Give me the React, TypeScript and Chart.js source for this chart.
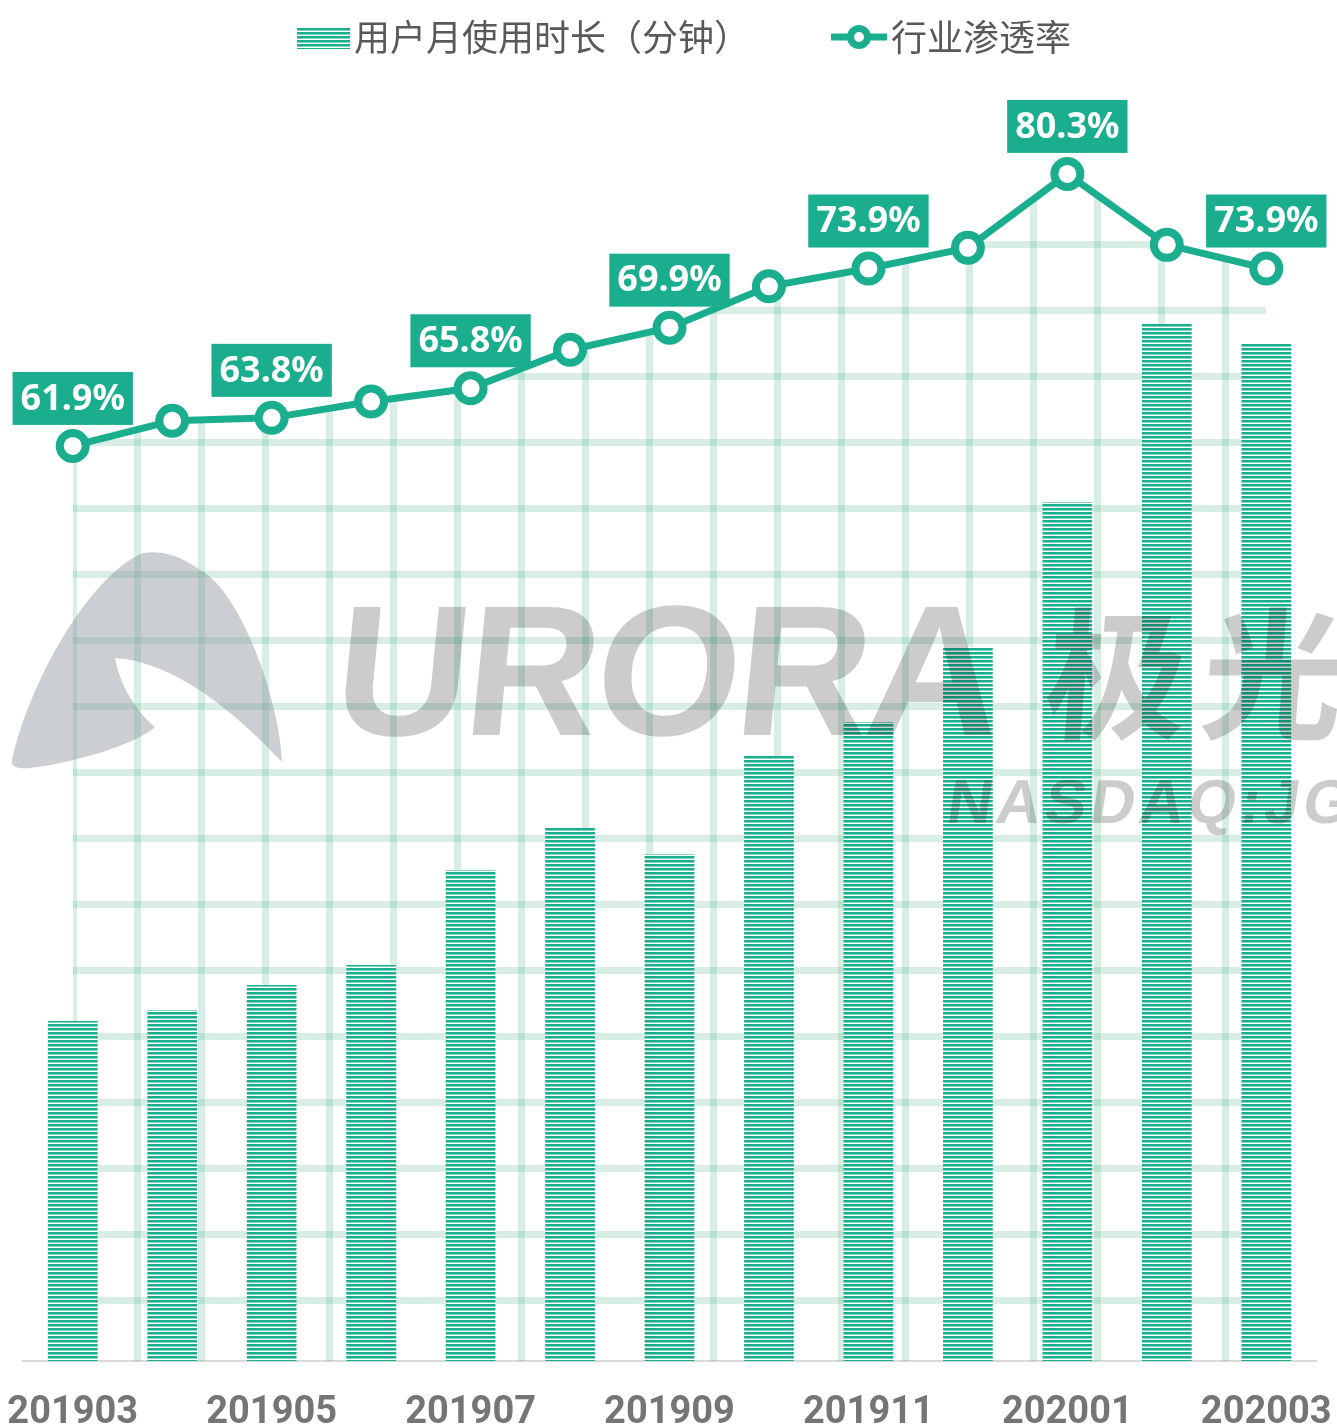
import React, { useEffect, useRef } from 'react';
import { Chart, registerables } from 'chart.js';

Chart.register(...registerables);

const categories = ['201903', '201904', '201905', '201906', '201907', '201908', '201909', '201910', '201911', '201912', '202001', '202002', '202003'];
const usageMinutes = [340, 351, 376, 396, 491, 533, 507, 605, 639, 714, 859, 1037, 1017];
const penetration = [61.9, 63.6, 63.8, 64.9, 65.8, 68.4, 69.9, 72.7, 73.9, 75.3, 80.3, 75.5, 73.9];
const seriesNames = ['用户月使用时长（分钟）', '行业渗透率'];

const GREEN = '#1aae8f';

function makeBarPattern(ctx: CanvasRenderingContext2D) {
  const c = document.createElement('canvas');
  c.width = 4;
  c.height = 4;
  const g = c.getContext('2d')!;
  g.fillStyle = '#ffffff';
  g.fillRect(0, 0, 4, 4);
  g.fillStyle = GREEN;
  g.fillRect(0, 0, 4, 2);
  g.fillStyle = 'rgba(26,174,143,0.55)';
  g.fillRect(0, 2, 4, 1);
  return ctx.createPattern(c, 'repeat')!;
}

function makeGridPattern(ctx: CanvasRenderingContext2D) {
  const c = document.createElement('canvas');
  c.width = 64;
  c.height = 66;
  const g = c.getContext('2d')!;
  g.fillStyle = 'rgba(60,170,120,0.2)';
  g.fillRect(6, 0, 7, 66);
  g.fillRect(0, 43, 64, 7);
  return ctx.createPattern(c, 'repeat')!;
}

const watermarkPlugin = {
  id: 'watermark',
  afterDatasetsDraw(chart: any) {
    const ctx = chart.ctx as CanvasRenderingContext2D;
    ctx.save();
    ctx.fillStyle = 'rgba(140,148,155,0.45)';
    ctx.beginPath();
    ctx.moveTo(143, 553);
    ctx.bezierCurveTo(90, 575, 30, 680, 12, 760);
    ctx.quadraticCurveTo(10, 770, 30, 768);
    ctx.bezierCurveTo(80, 762, 140, 742, 155, 727);
    ctx.bezierCurveTo(135, 710, 120, 685, 115, 658);
    ctx.bezierCurveTo(175, 662, 235, 712, 282, 762);
    ctx.bezierCurveTo(280, 700, 240, 590, 200, 570);
    ctx.bezierCurveTo(180, 555, 160, 550, 143, 553);
    ctx.closePath();
    ctx.fill();

    ctx.fillStyle = 'rgba(0,0,0,0.2)';
    ctx.textBaseline = 'alphabetic';
    ctx.textAlign = 'left';
    ctx.save();
    ctx.translate(330, 735);
    ctx.transform(1, 0, -0.1, 1, 0, 0);
    ctx.font = 'bold 186px "Liberation Sans", Arial, sans-serif';
    (ctx as any).letterSpacing = '-4px';
    ctx.fillText('URORA', 0, 0);
    ctx.restore();
    ctx.save();
    ctx.translate(1042, 728);
    ctx.transform(1, 0, -0.08, 1, 0, 0);
    ctx.font = 'bold 142px "Noto Sans CJK SC", sans-serif';
    (ctx as any).letterSpacing = '14px';
    ctx.fillText('极光', 0, 0);
    ctx.restore();
    ctx.save();
    ctx.translate(945, 823);
    ctx.transform(1, 0, -0.15, 1, 0, 0);
    ctx.font = 'bold 62px "Liberation Sans", Arial, sans-serif';
    (ctx as any).letterSpacing = '4px';
    ctx.fillText('NASDAQ:JG', 0, 0);
    ctx.restore();
    ctx.restore();
  },
};

const pointLabelPlugin = {
  id: 'pointLabels',
  afterDatasetsDraw(chart: any) {
    const ctx = chart.ctx as CanvasRenderingContext2D;
    const meta = chart.getDatasetMeta(1);
    ctx.save();
    ctx.font = 'bold 36px "Noto Sans", "Open Sans", sans-serif';
    ctx.textAlign = 'center';
    ctx.textBaseline = 'middle';
    meta.data.forEach((pt: any, i: number) => {
      if (i % 2 !== 0) return;
      const text = penetration[i].toFixed(1) + '%';
      const w = ctx.measureText(text).width + 16;
      const h = 53;
      const bottom = pt.y - 21;
      ctx.fillStyle = GREEN;
      ctx.fillRect(pt.x - w / 2, bottom - h, w, h);
      ctx.fillStyle = '#ffffff';
      ctx.fillText(text, pt.x, bottom - h / 2 + 1);
    });
    ctx.restore();
  },
};

const legendPlugin = {
  id: 'customLegend',
  afterDraw(chart: any) {
    const ctx = chart.ctx as CanvasRenderingContext2D;
    ctx.save();
    const cy = 37;
    ctx.fillStyle = makeBarPattern(ctx);
    ctx.fillRect(297, 27, 53, 22);
    ctx.font = '36px "Noto Sans CJK SC", sans-serif';
    ctx.fillStyle = '#595959';
    ctx.textBaseline = 'middle';
    ctx.textAlign = 'left';
    ctx.fillText(seriesNames[0], 354, cy);

    ctx.strokeStyle = GREEN;
    ctx.lineWidth = 7;
    ctx.beginPath();
    ctx.moveTo(831, cy);
    ctx.lineTo(887, cy);
    ctx.stroke();
    ctx.beginPath();
    ctx.arc(859, cy, 8.5, 0, Math.PI * 2);
    ctx.fillStyle = '#ffffff';
    ctx.fill();
    ctx.stroke();
    ctx.fillStyle = '#595959';
    ctx.fillText(seriesNames[1], 891, cy);
    ctx.restore();
  },
};

export default function App() {
  const ref = useRef<HTMLCanvasElement>(null);
  useEffect(() => {
    document.body.style.margin = '0';
    const canvas = ref.current!;
    const ctx = canvas.getContext('2d')!;
    const barPattern = makeBarPattern(ctx);
    const gridPattern = makeGridPattern(ctx);
    const chart = new Chart(canvas, {
      data: {
        labels: categories,
        datasets: [
          {
            type: 'bar',
            label: seriesNames[0],
            data: usageMinutes,
            backgroundColor: barPattern as any,
            borderWidth: 0,
            yAxisID: 'yBar',
            order: 1,
            barPercentage: 0.5,
            categoryPercentage: 1,
          },
          {
            type: 'line',
            label: seriesNames[1],
            data: penetration,
            borderColor: GREEN,
            borderWidth: 7,
            backgroundColor: gridPattern as any,
            fill: 'origin',
            pointRadius: 13,
            pointHoverRadius: 13,
            pointBorderWidth: 8,
            pointBackgroundColor: '#ffffff',
            pointBorderColor: GREEN,
            tension: 0,
            yAxisID: 'yLine',
            order: 0,
            clip: false as any,
          },
        ],
      } as any,
      options: {
        responsive: false,
        animation: false,
        devicePixelRatio: 1,
        layout: { padding: { top: 100, left: 23, right: 17, bottom: 0 } },
        plugins: {
          legend: { display: false },
          tooltip: { enabled: false },
          filler: { drawTime: 'beforeDatasetsDraw' } as any,
        },
        scales: {
          x: {
            grid: { display: false, drawTicks: false },
            border: { display: true, color: '#d9d9d9', width: 2 },
            ticks: {
              autoSkip: false,
              maxRotation: 0,
              padding: 33,
              color: '#757575',
              font: { family: 'Roboto', weight: 'bold', size: 38, lineHeight: 1 },
              callback: (_v: any, i: number) => (i % 2 === 0 ? categories[i] : ''),
            },
            afterFit: (scale: any) => {
              scale.height = 64;
              scale.paddingLeft = 0;
              scale.paddingRight = 0;
            },
          },
          yBar: { display: false, min: 0, max: 1261 },
          yLine: { display: false, min: 0, max: 85.3, position: 'right' },
        },
      } as any,
      plugins: [watermarkPlugin, pointLabelPlugin, legendPlugin],
    });
    return () => chart.destroy();
  }, []);
  return (
    <div style={{ width: 1337, height: 1425 }}>
      <canvas ref={ref} width={1337} height={1425} style={{ display: 'block', width: 1337, height: 1425 }} />
    </div>
  );
}
